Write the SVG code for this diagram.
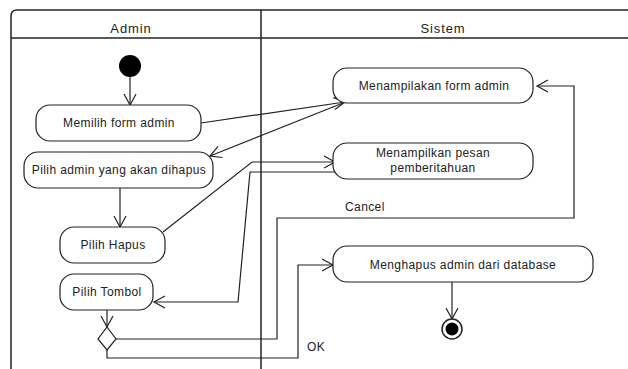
<svg xmlns="http://www.w3.org/2000/svg" width="628" height="369" viewBox="0 0 628 369">
  <style>
    .frame { fill: none; stroke: #222; stroke-width: 1.5; }
    .node rect { fill: #fff; stroke: #222; stroke-width: 1.2; }
    .node text, .lbl { font-family: "Liberation Sans", Arial, sans-serif; font-size: 12px; fill: #222; letter-spacing: 0.4px; text-anchor: middle; }
    .lbl { text-anchor: start; }
    .hdr { font-family: "Liberation Sans", Arial, sans-serif; font-size: 13px; fill: #222; letter-spacing: 0.9px; text-anchor: middle; }
    .edge { fill: none; stroke: #222; stroke-width: 1.2; marker-end: url(#arrow); }
  </style>
  <defs>
    <marker id="arrow" markerUnits="userSpaceOnUse" markerWidth="14" markerHeight="14" viewBox="-12 -7 14 14" refX="0" refY="0" orient="auto">
      <path d="M-11,-6 L0,0 L-11,6" fill="none" stroke="#222" stroke-width="1.2"/>
    </marker>
  </defs>
  <rect width="628" height="369" fill="#fff"/>

  <!-- swimlane frame -->
  <g id="lanes">
    <path class="frame" d="M11,369 V16 Q11,10 17,10 H628"/>
    <line class="frame" x1="11" y1="38" x2="628" y2="38"/>
    <line class="frame" x1="261" y1="10" x2="261" y2="369"/>
    <text class="hdr" x="131" y="33">Admin</text>
    <text class="hdr" x="443" y="33">Sistem</text>
  </g>

  <!-- connectors -->
  <g id="connectors">
    <line class="edge" x1="130" y1="77" x2="130" y2="105"/>
    <line class="edge" x1="201" y1="123" x2="345" y2="102"/>
    <line class="edge" x1="343" y1="103" x2="210" y2="156"/>
    <line class="edge" x1="120" y1="188" x2="120" y2="227"/>
    <polyline class="edge" points="163,232 252,162 335,162"/>
    <polyline class="edge" points="335,172 250,172 238,302 154,302"/>
    <line class="edge" x1="107" y1="310" x2="107" y2="327"/>
    <polyline class="edge" points="116,339 277,339 277,218 574,218 574,86 537,86"/>
    <polyline class="edge" points="107,350 107,358 298,358 298,265 333,265"/>
    <line class="edge" x1="452" y1="282" x2="452" y2="319"/>
    <text class="lbl" x="345" y="211">Cancel</text>
    <text class="lbl" x="307" y="351">OK</text>
  </g>

  <!-- nodes -->
  <g id="start">
    <circle cx="130" cy="66" r="11" fill="#000"/>
  </g>
  <g id="memilih-form" class="node">
    <rect x="36" y="105" width="165" height="36" rx="14"/>
    <text x="119" y="127">Memilih form admin</text>
  </g>
  <g id="pilih-admin" class="node">
    <rect x="24" y="152" width="189" height="36" rx="14"/>
    <text x="119" y="174">Pilih admin yang akan dihapus</text>
  </g>
  <g id="pilih-hapus" class="node">
    <rect x="60" y="227" width="105" height="36" rx="14"/>
    <text x="113" y="249">Pilih Hapus</text>
  </g>
  <g id="pilih-tombol" class="node">
    <rect x="60" y="274" width="93" height="36" rx="14"/>
    <text x="107" y="296">Pilih Tombol</text>
  </g>
  <g id="decision">
    <polygon points="107,327 116,339 107,350 98,339" fill="#fff" stroke="#222" stroke-width="1.2"/>
  </g>
  <g id="tampil-form" class="node">
    <rect x="333" y="68" width="200" height="35" rx="14"/>
    <text x="434" y="90">Menampilakan form admin</text>
  </g>
  <g id="tampil-pesan" class="node">
    <rect x="333" y="143" width="200" height="36" rx="14"/>
    <text x="433" y="157">Menampilkan pesan</text>
    <text x="433" y="172">pemberitahuan</text>
  </g>
  <g id="hapus-admin" class="node">
    <rect x="333" y="246" width="260" height="36" rx="14"/>
    <text x="463" y="269">Menghapus admin dari database</text>
  </g>
  <g id="end">
    <circle cx="452" cy="329" r="10" fill="#fff" stroke="#222" stroke-width="1.5"/>
    <circle cx="452" cy="329" r="6.5" fill="#000"/>
  </g>
</svg>
